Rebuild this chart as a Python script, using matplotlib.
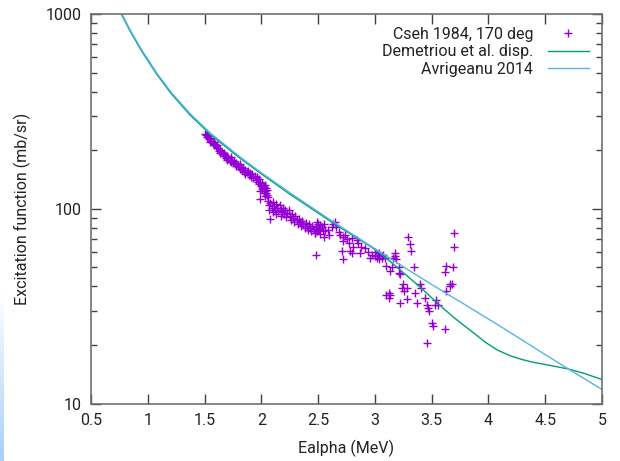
import numpy as np
import matplotlib
matplotlib.use("Agg")
import matplotlib.pyplot as plt
from matplotlib.ticker import FixedLocator, NullFormatter
from matplotlib.colors import LinearSegmentedColormap

plt.rcParams['font.family'] = ['Roboto', 'DejaVu Sans']

# Cseh 1984, 170 deg  (energy in MeV, cross section in mb/sr)
cseh_e = [
    1.50, 1.51, 1.52, 1.52, 1.53, 1.54, 1.55, 1.55, 1.56, 1.57, 1.58, 1.58, 1.59, 1.60,
    1.61, 1.61, 1.62, 1.63, 1.64, 1.64, 1.65, 1.66, 1.67, 1.67, 1.68, 1.69, 1.70, 1.70,
    1.71, 1.72, 1.73, 1.73, 1.74, 1.75, 1.76, 1.77, 1.78, 1.78, 1.79, 1.80, 1.81, 1.81,
    1.82, 1.83, 1.84, 1.85, 1.86, 1.86, 1.87, 1.88, 1.89, 1.90, 1.91, 1.92, 1.93, 1.94,
    1.95, 1.96, 1.97, 1.98, 1.98, 1.99, 2.00, 2.01, 2.01, 2.02, 2.03, 2.03, 2.04, 2.04,
    2.05, 1.99, 2.02, 2.05, 2.06, 2.03, 1.99, 2.08,
    2.06, 2.07, 2.07, 2.08, 2.09, 2.10, 2.10, 2.11, 2.12, 2.13, 2.13, 2.14, 2.15, 2.16,
    2.17, 2.17, 2.18, 2.19, 2.20, 2.21, 2.22, 2.23, 2.24, 2.25, 2.26, 2.27, 2.28, 2.29,
    2.30, 2.31, 2.32, 2.33, 2.34, 2.35, 2.36, 2.37, 2.38, 2.39, 2.40, 2.41, 2.42, 2.43,
    2.44, 2.45, 2.46, 2.47, 2.48, 2.49, 2.50, 2.51, 2.52, 2.53, 2.54, 2.55, 2.48,
    2.49, 2.52, 2.55, 2.50, 2.47, 2.59, 2.60, 2.63, 2.65, 2.66, 2.68, 2.69, 2.72, 2.74,
    2.75, 2.72, 2.77, 2.80, 2.81, 2.78, 2.71, 2.72, 2.84, 2.85, 2.88, 2.87, 2.91, 2.94,
    2.97, 2.96, 3.00, 3.03, 3.04, 3.06, 2.80, 2.53, 2.62, 2.56,
    3.00, 3.03, 3.06, 3.09, 3.02, 3.04, 3.07, 3.18, 3.19, 3.16, 3.10, 3.13, 3.15, 3.21,
    3.22, 3.21, 3.25, 3.26, 3.24, 3.28, 3.12, 3.13, 3.10, 3.12, 3.22, 3.29, 3.31, 3.32,
    3.34, 3.40, 3.41, 3.35, 3.37, 3.44, 3.46, 3.47, 3.48, 3.50, 3.51, 3.54, 3.56, 3.53,
    3.46, 3.62, 3.63, 3.69, 3.62, 3.66, 3.66, 3.68, 3.63, 3.70, 3.70, 3.18, 3.28,
]
cseh_v = [
    243, 238, 240, 233, 235, 228, 230, 221, 224, 218, 220, 212, 214, 210,
    204, 212, 206, 198, 201, 193, 196, 190, 194, 186, 188, 183, 187, 179,
    182, 176, 184, 174, 178, 171, 175, 169, 172, 165, 168, 163, 170, 160,
    164, 158, 161, 155, 159, 151, 154, 157, 149, 152, 146, 150, 144, 147,
    141, 145, 138, 142, 134, 137, 131, 136, 127, 130, 124, 133, 121, 128,
    118, 124, 120, 125, 115, 116, 112, 89,
    110, 104, 98, 107, 101, 108, 96, 103, 99, 106, 94, 101, 97, 104,
    99, 92, 96, 101, 94, 98, 91, 95, 99, 92, 88, 94, 90, 86,
    92, 88, 84, 89, 86, 82, 87, 84, 80, 85, 82, 78, 84, 80,
    77, 82, 79, 75, 81, 77, 84, 79, 74, 81, 77, 72, 58,
    86, 83, 84, 78, 75, 78, 73, 84, 86, 81, 76, 73, 72, 73,
    70, 68, 67, 71, 64, 61, 61, 55, 69, 67, 64, 59, 63, 60,
    58, 56, 57, 58, 55, 56, 59, 81, 81, 78,
    60, 58, 57, 56, 56, 59, 58, 57, 55, 56, 51, 48, 50, 50,
    46, 47, 41, 38, 39, 39, 37, 36, 36, 35, 33, 72, 66, 61,
    50, 41, 39, 37, 33, 35, 32, 31, 30, 26, 25, 34, 32, 32,
    20.4, 24, 51, 50, 47.5, 41, 40, 41, 37.6, 75, 64, 59, 34.5,
]

# Demetriou et al. disp.
dem_e = [0.70, 0.77, 0.85, 0.95, 1.08, 1.20, 1.37, 1.55, 1.81, 2.00, 2.25, 2.45,
         2.63, 2.85, 2.93, 3.00, 3.07, 3.15, 3.22, 3.30, 3.40, 3.50, 3.60, 3.70,
         3.81, 3.90, 3.98, 4.08, 4.19, 4.30, 4.39, 4.54, 4.69, 4.84, 4.98, 5.05]
dem_v = [1198, 990, 806, 639, 490, 394, 304, 241, 182, 151, 119, 99.5,
         84.6, 70.2, 65.8, 61.7, 57.5, 52.7, 48.6, 44.4, 39.5, 34.9, 30.9, 27.5,
         24.5, 22.3, 20.5, 18.8, 17.6, 16.8, 16.3, 15.7, 15.1, 14.3, 13.4, 13.0]

# Avrigeanu 2014
avr_e = [0.70, 0.77, 0.85, 0.95, 1.08, 1.20, 1.37, 1.55, 1.81, 2.00, 2.25, 2.45,
         2.63, 2.85, 3.07, 3.30, 3.51, 3.80, 4.10, 4.40, 4.69, 4.98, 5.05]
avr_v = [1216, 1005, 818, 649, 497, 400, 309, 245, 185, 153, 121, 101,
         85.9, 71.0, 58.7, 48.3, 40.5, 32.0, 25.0, 19.4, 15.2, 12.0, 11.3]

fig = plt.figure(figsize=(6.2, 4.61), dpi=100)
ax = fig.add_axes([0.1468, 0.1247, 0.8242, 0.8449])

ax.plot(cseh_e, cseh_v, linestyle='none', marker='+', markersize=6,
        markeredgewidth=1.0, color='#9400d3', label='Cseh 1984, 170 deg')
ax.plot(dem_e, dem_v, color='#009e73', lw=1.0, label='Demetriou et al. disp.')
ax.plot(avr_e, avr_v, color='#56b4e9', lw=1.0, label='Avrigeanu 2014')

ax.set_yscale('log')
ax.set_xlim(0.5, 5)
ax.set_ylim(10, 1000)
ax.set_xticks(np.arange(0.5, 5.01, 0.5))
ax.set_xticklabels(['0.5', '1', '1.5', '2', '2.5', '3', '3.5', '4', '4.5', '5'])
ax.yaxis.set_major_locator(FixedLocator([10, 100, 1000]))
ax.set_yticklabels(['10', '100', '1000'])
minors = [m * d for d in (10, 100) for m in range(2, 10)]
ax.yaxis.set_minor_locator(FixedLocator(minors))
ax.yaxis.set_minor_formatter(NullFormatter())
ax.xaxis.set_minor_locator(FixedLocator([]))

ax.tick_params(which='both', direction='in', top=True, right=True,
               color='#404040', labelsize=11.5, labelcolor='#222222', pad=7)
ax.tick_params(which='major', length=7, width=1)
ax.tick_params(which='minor', length=4, width=1)
for s in ax.spines.values():
    s.set_color('#707070')
    s.set_linewidth(1.2)

ax.set_xlabel('Ealpha (MeV)', fontsize=11.5, color='#222222', labelpad=8)
ax.set_ylabel('Excitation function (mb/sr)', fontsize=11.5, color='#222222', labelpad=10)

ax.legend(loc='upper right', frameon=False, markerfirst=False, fontsize=11.5,
          handlelength=2.6, handletextpad=0.9, labelspacing=0.15,
          borderaxespad=0.4, labelcolor='#222222')

# blue strip on the left border of the screenshot
strip = fig.add_axes([0, 0, 0.006, 0.37])
grad = np.linspace(0, 1, 100).reshape(-1, 1)
cmap = LinearSegmentedColormap.from_list('strip', ['#a9d0f7', '#ffffff'])
strip.imshow(grad, aspect='auto', cmap=cmap, origin='lower')
strip.axis('off')

fig.savefig('out.png', dpi=100)
